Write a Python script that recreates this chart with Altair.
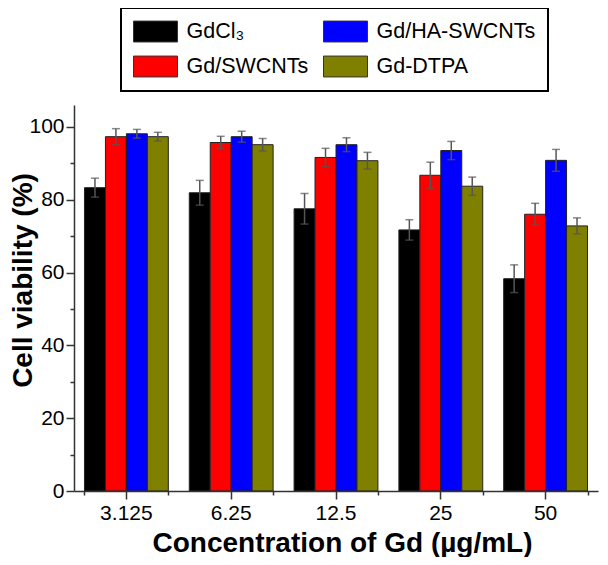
import altair as alt
import pandas as pd

concentrations = ["3.125", "6.25", "12.5", "25", "50"]
series = ["GdCl₃", "Gd/SWCNTs", "Gd/HA-SWCNTs", "Gd-DTPA"]
colors = ["#000000", "#ff0000", "#0000ff", "#808000"]

gdcl3 = [83.3, 81.9, 77.5, 71.7, 58.3]
gdcl3_err = [2.6, 3.4, 4.2, 2.8, 3.8]
gd_swcnts = [97.3, 95.7, 91.6, 86.7, 76.0]
gd_swcnts_err = [2.2, 1.7, 2.5, 3.6, 3.0]
gd_ha_swcnts = [98.1, 97.3, 95.1, 93.5, 90.8]
gd_ha_swcnts_err = [1.2, 1.5, 1.9, 2.5, 3.0]
gd_dtpa = [97.3, 95.1, 90.7, 83.7, 72.8]
gd_dtpa_err = [1.2, 1.7, 2.3, 2.5, 2.2]

y_major = [0, 20, 40, 60, 80, 100]
y_minor = [10, 30, 50, 70, 90]

rows = []
for s, vals, errs in zip(series,
                         [gdcl3, gd_swcnts, gd_ha_swcnts, gd_dtpa],
                         [gdcl3_err, gd_swcnts_err, gd_ha_swcnts_err, gd_dtpa_err]):
    for c, v, e in zip(concentrations, vals, errs):
        rows.append({"conc": c, "series": s, "value": v, "lo": v - e, "hi": v + e})
df = pd.DataFrame(rows)

FONT = "Liberation Sans"
AX = "#333333"

xscale = alt.Scale(domain=concentrations, paddingInner=0.2, paddingOuter=0.1)
yscale = alt.Scale(domain=[0, 106], nice=False, zero=True)
xoff = alt.XOffset("series:N", sort=series, scale=alt.Scale(domain=series))

x_main = alt.X("conc:N", sort=concentrations, scale=xscale,
               axis=alt.Axis(orient="bottom", title="Concentration of Gd (µg/mL)",
                             labelAngle=0, labelFont=FONT, labelFontSize=21, labelColor="black",
                             labelPadding=3, tickSize=8, tickWidth=1.5, tickColor=AX,
                             domainColor=AX, domainWidth=1.5, grid=False, zindex=1,
                             titleFont=FONT, titleFontSize=28, titleFontWeight="bold",
                             titleColor="black", titleX=268, titleY=60,
                             titleBaseline="alphabetic", titleAlign="center"))
y_main = alt.Y("value:Q", scale=yscale,
               axis=alt.Axis(orient="left", title="Cell viability (%)", values=y_major,
                             labelFont=FONT, labelFontSize=21, labelColor="black",
                             labelPadding=2, tickSize=8, tickWidth=1.5, tickColor=AX,
                             domainColor=AX, domainWidth=1.5, grid=False, zindex=1,
                             titleFont=FONT, titleFontSize=28, titleFontWeight="bold",
                             titleColor="black", titleX=-43, titleY=175, titleAngle=-90,
                             titleBaseline="alphabetic", titleAlign="center"))

color = alt.Color("series:N", scale=alt.Scale(domain=series, range=colors),
                  legend=alt.Legend(orient="none", legendX=47, legendY=-97, columns=2,
                                    title=None, symbolType="M-1,-0.95H3V0.95H-1Z",
                                    symbolSize=484, symbolStrokeColor="#333333",
                                    symbolStrokeWidth=1, symbolOpacity=1,
                                    labelFont=FONT, labelFontSize=21.5, labelColor="black",
                                    labelOffset=30.5, labelLimit=300, columnPadding=12,
                                    rowPadding=10, padding=12, strokeColor="black",
                                    fillColor="white"))

bars = alt.Chart(df).mark_bar(stroke="#222222", strokeWidth=1).encode(
    x=x_main, xOffset=xoff, y=y_main, color=color
)

x_minor = alt.X("conc:N", sort=concentrations, scale=xscale,
                axis=alt.Axis(orient="bottom", title="", labels=False, domain=False,
                              tickBand="extent", tickSize=4, tickWidth=1.5, tickColor=AX,
                              grid=False))
y_minor_ax = alt.Y("lo:Q", scale=yscale,
                   axis=alt.Axis(orient="left", title="", labels=False, domain=False,
                                 values=y_minor, tickSize=4, tickWidth=1.5, tickColor=AX,
                                 grid=False))

err_rules = alt.Chart(df).mark_rule(color="#555555", strokeWidth=1.5).encode(
    x=x_minor, xOffset=xoff, y=y_minor_ax, y2="hi:Q"
)

cap_hi = alt.Chart(df).mark_tick(color="#555555", thickness=1.5, size=8).encode(
    x=alt.X("conc:N", sort=concentrations, scale=xscale, axis=None),
    xOffset=xoff,
    y=alt.Y("hi:Q", scale=yscale, axis=None),
)
cap_lo = alt.Chart(df).mark_tick(color="#555555", thickness=1.5, size=8).encode(
    x=alt.X("conc:N", sort=concentrations, scale=xscale, axis=None),
    xOffset=xoff,
    y=alt.Y("lo:Q", scale=yscale, axis=None),
)

chart = alt.layer(bars, err_rules, cap_hi, cap_lo).resolve_axis(
    x="independent", y="independent"
).properties(
    width=524, height=386,
    padding={"left": 66, "top": 97, "right": 2, "bottom": 66},
    autosize=alt.AutoSizeParams(type="none"),
    background="white",
).configure_view(strokeWidth=0).configure_legend(strokeWidth=2)

chart.save("out.html", embed_options={"renderer": "svg", "actions": False})
